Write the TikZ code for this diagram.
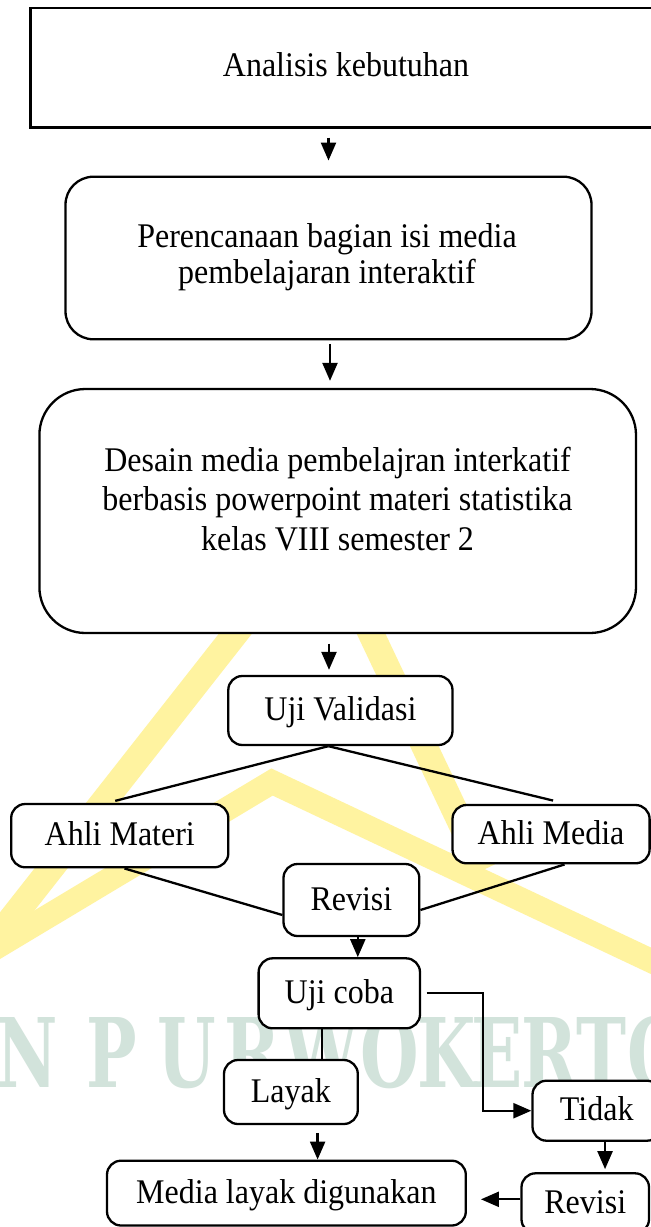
\documentclass[tikz,border=0pt]{standalone}
\usepackage{fontspec}
\setmainfont{Liberation Serif}
\newfontfamily\wmfont{DejaVu Serif}
\usetikzlibrary{arrows.meta,calc}
\definecolor{wmyellow}{RGB}{255,243,160}
\definecolor{wmgreen}{RGB}{210,227,219}
\newcommand{\stretchtxt}[1]{\scalebox{1}[1.08]{#1}}
\begin{document}
\begin{tikzpicture}[x=1pt,y=-1pt,
  every node/.style={font=\fontsize{32}{36}\selectfont},
  box/.style={draw, line width=2.3pt, fill=white, rounded corners=14pt, inner sep=0pt, text height=24pt, text depth=4pt},
  bigbox/.style={draw, line width=2.3pt, fill=white, inner sep=0pt},
  txt/.style={anchor=base, inner sep=0pt},
  conn/.style={line width=2.3pt},
  arr/.style={line width=2.3pt, -{Triangle[width=15pt,length=18pt]}},
  wmline/.style={wmyellow, line cap=butt, line join=miter},
  wmletter/.style={anchor=base, inner sep=0pt, text=wmgreen, font={\wmfont\bfseries\fontsize{96}{96}\selectfont}}
]
\useasboundingbox (0,0) rectangle (651,1227);
\clip (0,0) rectangle (651,1227);
\fill[white] (0,0) rectangle (651,1227);

% watermark
\draw[wmline, line width=26pt] (320,526) -- (-6,941);
\draw[wmline, line width=26pt] (320,526) -- (483,870);
\draw[wmline, line width=24pt] (-10,951) -- (272,782) -- (662,966);
\foreach \l/\x [count=\i] in {N/27,P/112,U/187,R/252,W/321,O/390,K/447,E/497,R/549,T/601,O/657}
  \node[wmletter] (wm\i) at (\x,1087) {\scalebox{0.7}[1]{\l}};

% big boxes
\node[bigbox, minimum width=634.5pt, minimum height=119.5pt] (b1) at (347.75,67.75) {};
\node[txt] (b1t) at (346,76.7) {\stretchtxt{Analisis kebutuhan}};

\node[bigbox, rounded corners=28pt, minimum width=526pt, minimum height=162.6pt] (b2) at (328.5,258) {};
\node[txt] (b2a) at (327,247.3) {\stretchtxt{Perencanaan bagian isi media}};
\node[txt] (b2b) at (327,283.3) {\stretchtxt{pembelajaran interaktif}};

\node[bigbox, rounded corners=46pt, minimum width=596.6pt, minimum height=244pt] (b3) at (337.7,511) {};
\node[txt] (b3a) at (337.5,471.7) {\stretchtxt{Desain media pembelajran interkatif}};
\node[txt] (b3b) at (337.5,510.5) {\stretchtxt{berbasis powerpoint materi statistika}};
\node[txt] (b3c) at (337.5,550) {\stretchtxt{kelas VIII semester 2}};

% small boxes
\node[box, minimum width=224.2pt, minimum height=69pt] (uv) at (340.4,710.5) {\stretchtxt{Uji Validasi}};
\node[box, minimum width=217.1pt, minimum height=63.3pt] (am) at (119.75,835.65) {\stretchtxt{Ahli Materi}};
\node[box, minimum width=197.1pt, minimum height=58.3pt] (amed) at (551.05,834.15) {\stretchtxt{Ahli Media}};
\node[box, minimum width=135.8pt, minimum height=72pt] (rv) at (351.4,900) {\stretchtxt{Revisi}};
\node[box, minimum width=161.4pt, minimum height=70pt] (uc) at (339.3,993.3) {\stretchtxt{Uji coba}};
\node[box, minimum width=133.8pt, minimum height=64pt] (lk) at (290.9,1092) {\stretchtxt{Layak}};
\node[box, minimum width=128.5pt, minimum height=60pt] (td) at (596.75,1110.7) {\stretchtxt{Tidak}};
\node[box, minimum width=127.5pt, minimum height=60pt] (rv2) at (585.25,1203.3) {\stretchtxt{Revisi}};
\node[box, minimum width=358.8pt, minimum height=64.8pt] (ml) at (286.4,1193.1) {\stretchtxt{Media layak digunakan}};

% connectors
\draw[arr, shorten <=9pt, shorten >=15pt] (b2.north |- b1.south) -- (b2.north);
\draw[arr, shorten <=3.5pt, shorten >=7pt] ([xshift=1.5pt]b2.south) -- ([xshift=1.5pt]b2.south |- b3.north);
\draw[arr, shorten <=9.5pt, shorten >=5pt] ([xshift=-8.7pt]b3.south) -- ([xshift=-8.7pt]b3.south |- uv.north);
\draw[conn] ([xshift=-12pt]uv.south) -- ([xshift=-4.5pt,yshift=2pt]am.north);
\draw[conn] ([xshift=-12pt]uv.south) -- ([xshift=2pt,yshift=3.3pt]amed.north);
\draw[conn] ([xshift=4.7pt]am.south) -- ([yshift=-15pt]rv.west);
\draw[conn] ([xshift=13.5pt]amed.south) -- ([yshift=-10pt]rv.east);
\draw[arr] ([xshift=6.4pt]rv.south) -- ([xshift=6.4pt]rv.south |- uc.north);
\draw[arr, shorten <=5.5pt] (uc.east) -- ++(61.5,0) |- (td.west);
\draw[conn] ([xshift=-17.6pt]uc.south) -- ([xshift=-17.6pt]uc.south |- lk.north);
\draw[arr, shorten <=7.7pt] ([xshift=26.7pt]lk.south) -- ([xshift=26.7pt]lk.south |- ml.north);
\draw[arr, shorten >=3pt] ([xshift=8.3pt]td.south) -- ([xshift=8.3pt]td.south |- rv2.north);
\draw[arr, shorten >=14pt] ([yshift=4pt]rv2.west) -- ([yshift=4pt]rv2.west -| ml.east);
\end{tikzpicture}
\end{document}
